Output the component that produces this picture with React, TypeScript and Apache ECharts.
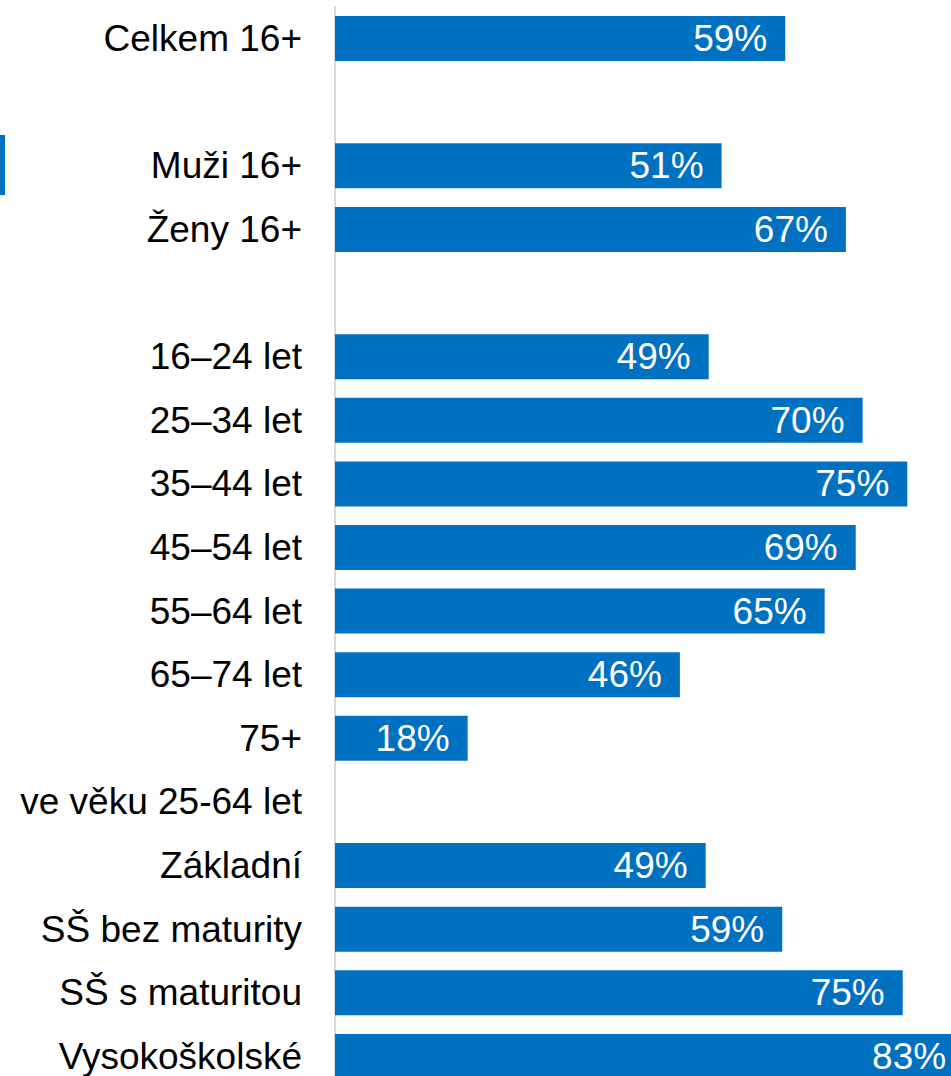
import React, { useEffect, useRef } from "react";
import * as echarts from "echarts";

const categories = [
  "Celkem 16+",
  "",
  "Muži 16+",
  "Ženy 16+",
  " ",
  "16–24 let",
  "25–34 let",
  "35–44 let",
  "45–54 let",
  "55–64 let",
  "65–74 let",
  "75+",
  "ve věku 25-64 let",
  "Základní",
  "SŠ bez maturity",
  "SŠ s maturitou",
  "Vysokoškolské",
];

const values: (number | null)[] = [
  59.4, null, 51.0, 67.4, null, 49.3, 69.6, 75.5, 68.7, 64.6, 45.5, 17.5, null, 48.9, 59.0, 74.9, 83.0,
];

const valueLabels: string[] = [
  "59%", "", "51%", "67%", "", "49%", "70%", "75%", "69%", "65%", "46%", "18%", "", "49%", "59%", "75%", "83%",
];

const FONT = "'Liberation Sans', Arial, sans-serif";

export default function App() {
  const ref = useRef<HTMLDivElement>(null);

  useEffect(() => {
    document.body.style.margin = "0";
    document.body.style.overflow = "hidden";
    document.documentElement.style.overflow = "hidden";
    if (!ref.current) return;
    const chart = echarts.init(ref.current, null, { renderer: "svg" });
    chart.setOption({
      animation: false,
      grid: { left: 335, top: 6.7, width: 758, height: 1081.6, containLabel: false },
      xAxis: {
        type: "value",
        min: 0,
        max: 100,
        show: false,
        splitLine: { show: false },
      },
      yAxis: {
        type: "category",
        inverse: true,
        data: categories,
        axisLine: { show: true, lineStyle: { color: "#d9d9d9", width: 2 } },
        axisTick: { show: false },
        axisLabel: {
          color: "#000000",
          fontSize: 37,
          fontFamily: FONT,
          margin: 33,
        },
      },
      graphic: [
        {
          type: "rect",
          shape: { x: 0, y: 135, width: 5, height: 60 },
          style: { fill: "#0070c0" },
        },
      ],
      series: [
        {
          type: "bar",
          clip: false,
          data: values.map((v) => (v === null ? "-" : v)),
          barWidth: 45,
          itemStyle: { color: "#0070c0" },
          label: {
            show: true,
            position: "insideRight",
            distance: 18,
            color: "#ffffff",
            fontSize: 37,
            fontFamily: FONT,
            formatter: (p: any) => valueLabels[p.dataIndex],
          },
        },
      ],
    });
    return () => chart.dispose();
  }, []);

  return <div ref={ref} style={{ width: 1100, height: 1100 }} />;
}
